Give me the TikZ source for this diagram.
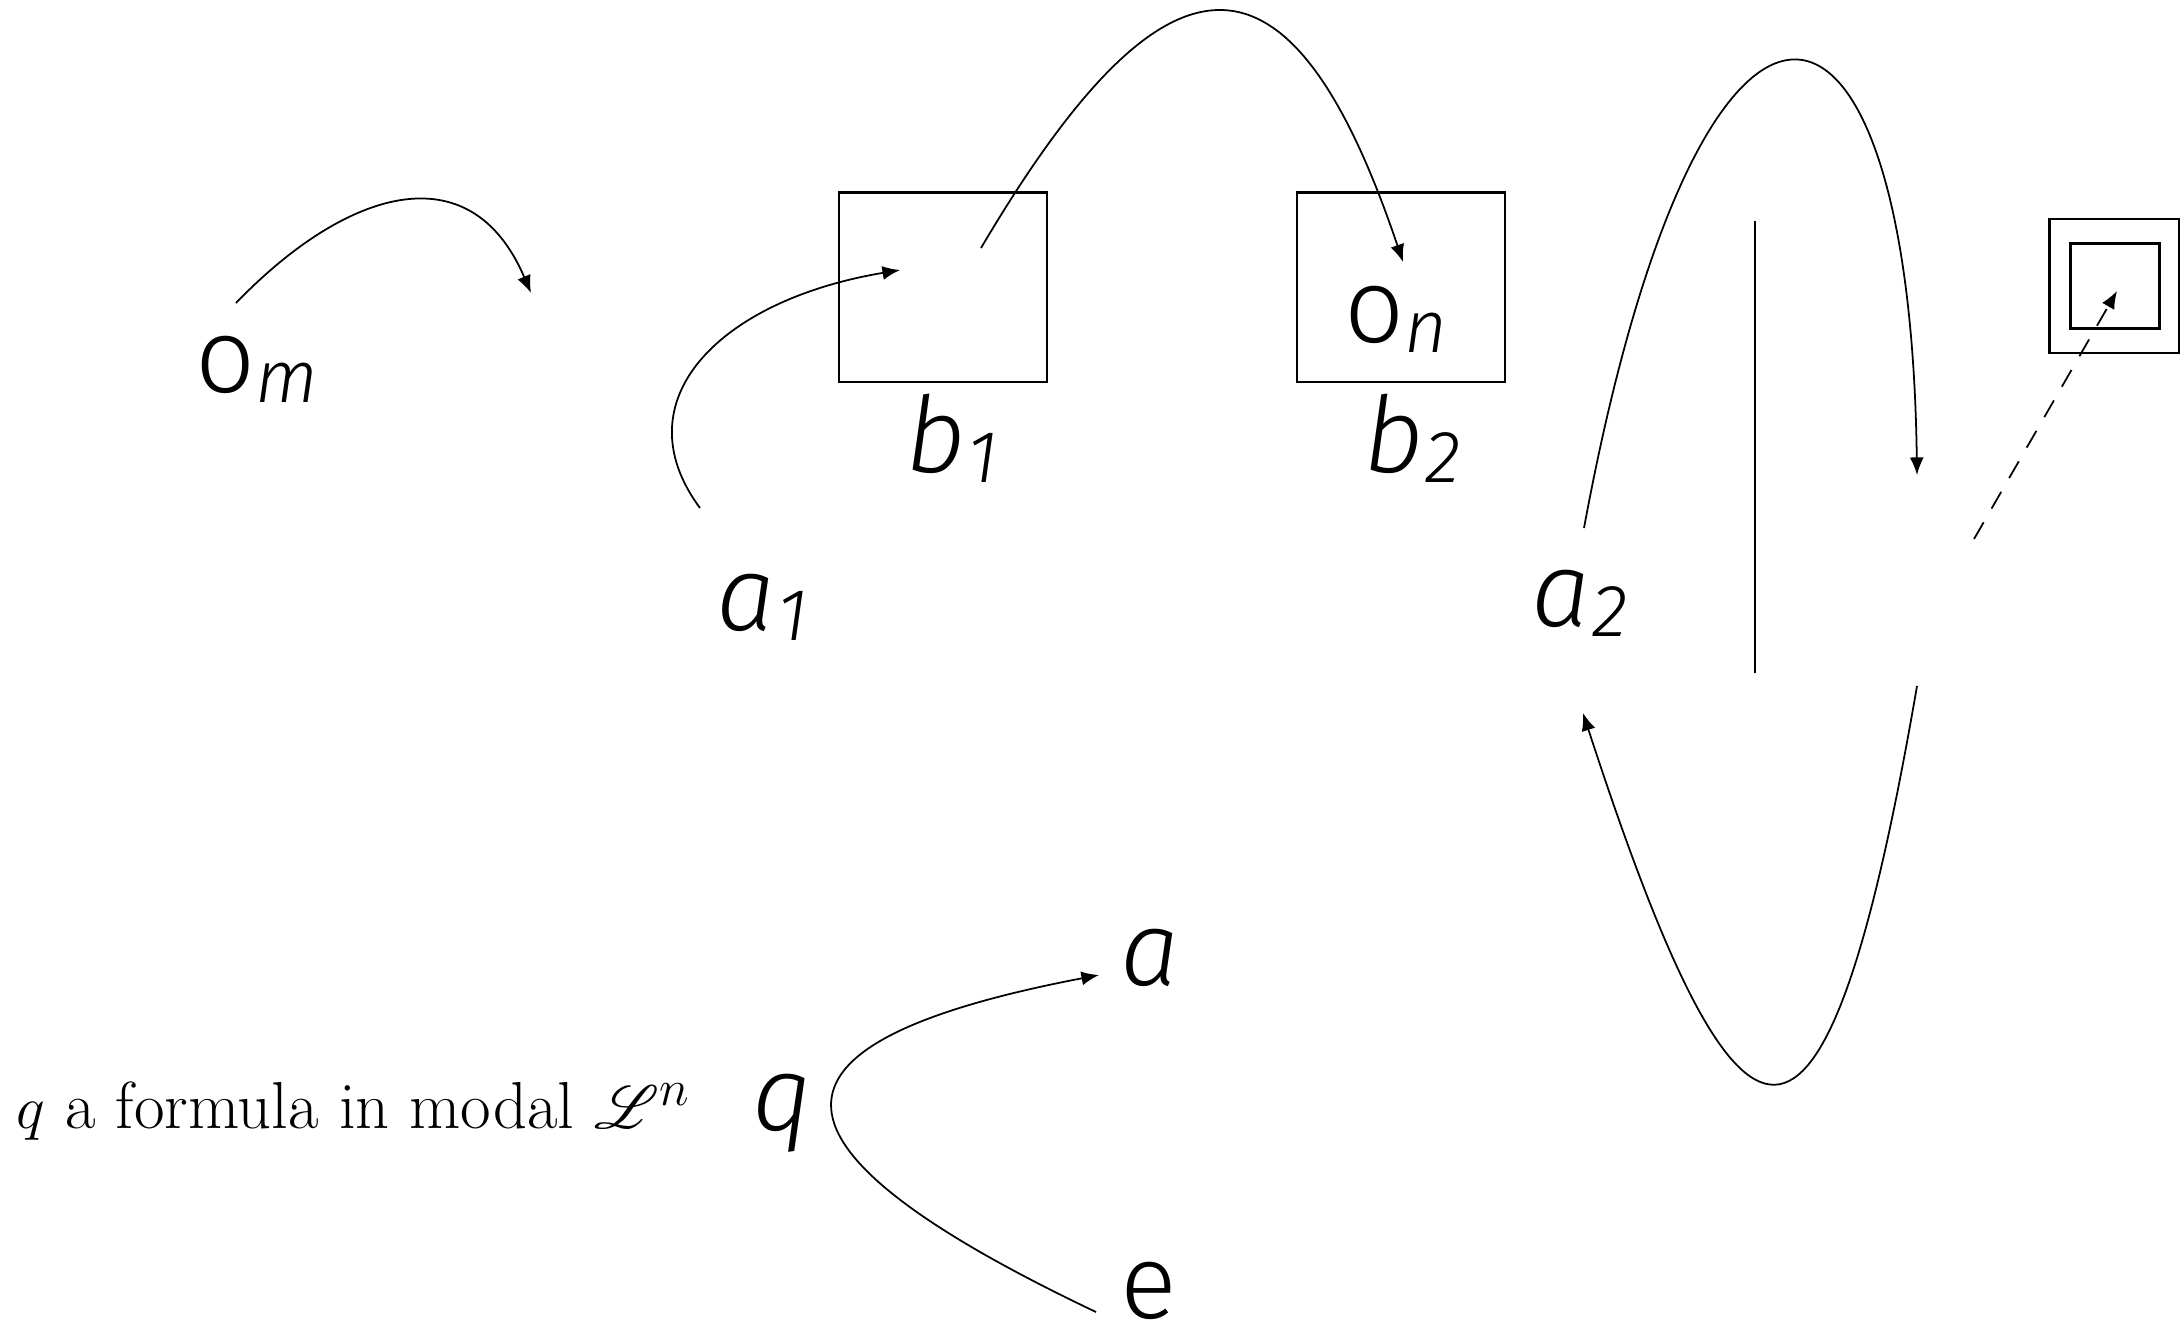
\documentclass[tikz,border=0pt]{standalone}
\usepackage{fontspec}
\usepackage{mathrsfs}
\usetikzlibrary{arrows.meta}
\newfontfamily\lblfont[ItalicFont={Fira Sans Light Italic}]{Fira Sans Light}
\newcommand{\sublbl}[2]{%
    \textit{#1}\kern0.5pt\raisebox{-3pt}{\fontsize{21}{21}\selectfont\itshape #2}%
}
\newcommand{\uplbl}[2]{%
    #1\raisebox{-3pt}{\fontsize{21}{21}\selectfont\itshape #2}%
}
\tikzset{
    lbl/.style={
        font=\lblfont\fontsize{30}{30}\selectfont,
        anchor=base west,
        inner sep=0pt
    },
    worldbox/.style={
        draw,
        rectangle,
        line width=0.6pt,
        minimum width=2.08cm,
        minimum height=1.89cm,
        inner sep=0pt
    },
    link/.style={
        line width=0.5pt,
        -{Latex[length=5pt,width=4pt]}
    }
}

\begin{document}
\begin{tikzpicture}[x=0.01cm,y=-0.01cm]
\useasboundingbox (0,0) rectangle (2181,1338);

% ---------------------------------------------------------
% Worlds
% ---------------------------------------------------------
\foreach \i/\x in {1/943,2/1401}
{
    \node[worldbox] (b\i) at (\x,287) {};
    \node[lbl] (lb\i) at (\x-38,472) {\sublbl{b}{\i}};
}

\node[worldbox, minimum width=1.29cm, minimum height=1.34cm]
    (outerbox) at (2114,286) {};
\node[worldbox, minimum width=0.89cm, minimum height=0.85cm]
    (innerbox) at (2115,286) {};

% ---------------------------------------------------------
% Labels
% ---------------------------------------------------------
\node[lbl] (om) at (195,392) {\uplbl{o}{m}};
\node[lbl] (on) at (1344,342) {\uplbl{o}{n}};
\node[lbl] (a1) at (716,630) {\sublbl{a}{1}};
\node[lbl] (a2) at (1531,626) {\sublbl{a}{2}};
\node[lbl] (qq) at (752,1130) {\textit{q}};
\node[lbl] (aa) at (1120,985) {\textit{a}};
\node[lbl] (ee) at (1120,1318) {e};

\node[
    anchor=base west,
    inner sep=0pt,
    font=\fontsize{18.9}{22}\selectfont
]
(formula) at (16,1128)
{$q$ a formula in modal $\mathscr{L}^n$};

% ---------------------------------------------------------
% Arrows
% ---------------------------------------------------------
\coordinate (om start) at (236,303);
\coordinate (om end) at (531,293);
\coordinate (a1 start) at (700,508);
\coordinate (b1 in) at (900,270);
\coordinate (b1 out) at (981,248);
\coordinate (b2 in) at (1403,262);
\coordinate (a2 up) at (1584,528);
\coordinate (mid up) at (1917,475);
\coordinate (mid down) at (1917,686);
\coordinate (a2 down) at (1583,713);
\coordinate (sep top) at (1755,221);
\coordinate (sep bot) at (1755,673);
\coordinate (dash start) at (1974,539);
\coordinate (inner in) at (2117,291);
\coordinate (e start) at (1096,1312);
\coordinate (a end) at (1099,975);

\draw[link] (om start) .. controls (345,190) and (470,150) .. (om end);
\draw[link] (a1 start) .. controls (620,400) and (720,300) .. (b1 in);
\draw[link] (b1 out) .. controls (1164,-62) and (1289,-76) .. (b2 in);
\draw[link] (a2 up) .. controls (1700,-100) and (1910,-70) .. (mid up);
\draw[link] (mid down) .. controls (1824,1226) and (1740,1195) .. (a2 down);
\draw[line width=0.5pt] (sep top) -- (sep bot);
\draw[link, dash pattern=on 5.5pt off 4.5pt] (dash start) -- (inner in);
\draw[link] (e start) .. controls (730,1138) and (760,1040) .. (a end);

\end{tikzpicture}
\end{document}
